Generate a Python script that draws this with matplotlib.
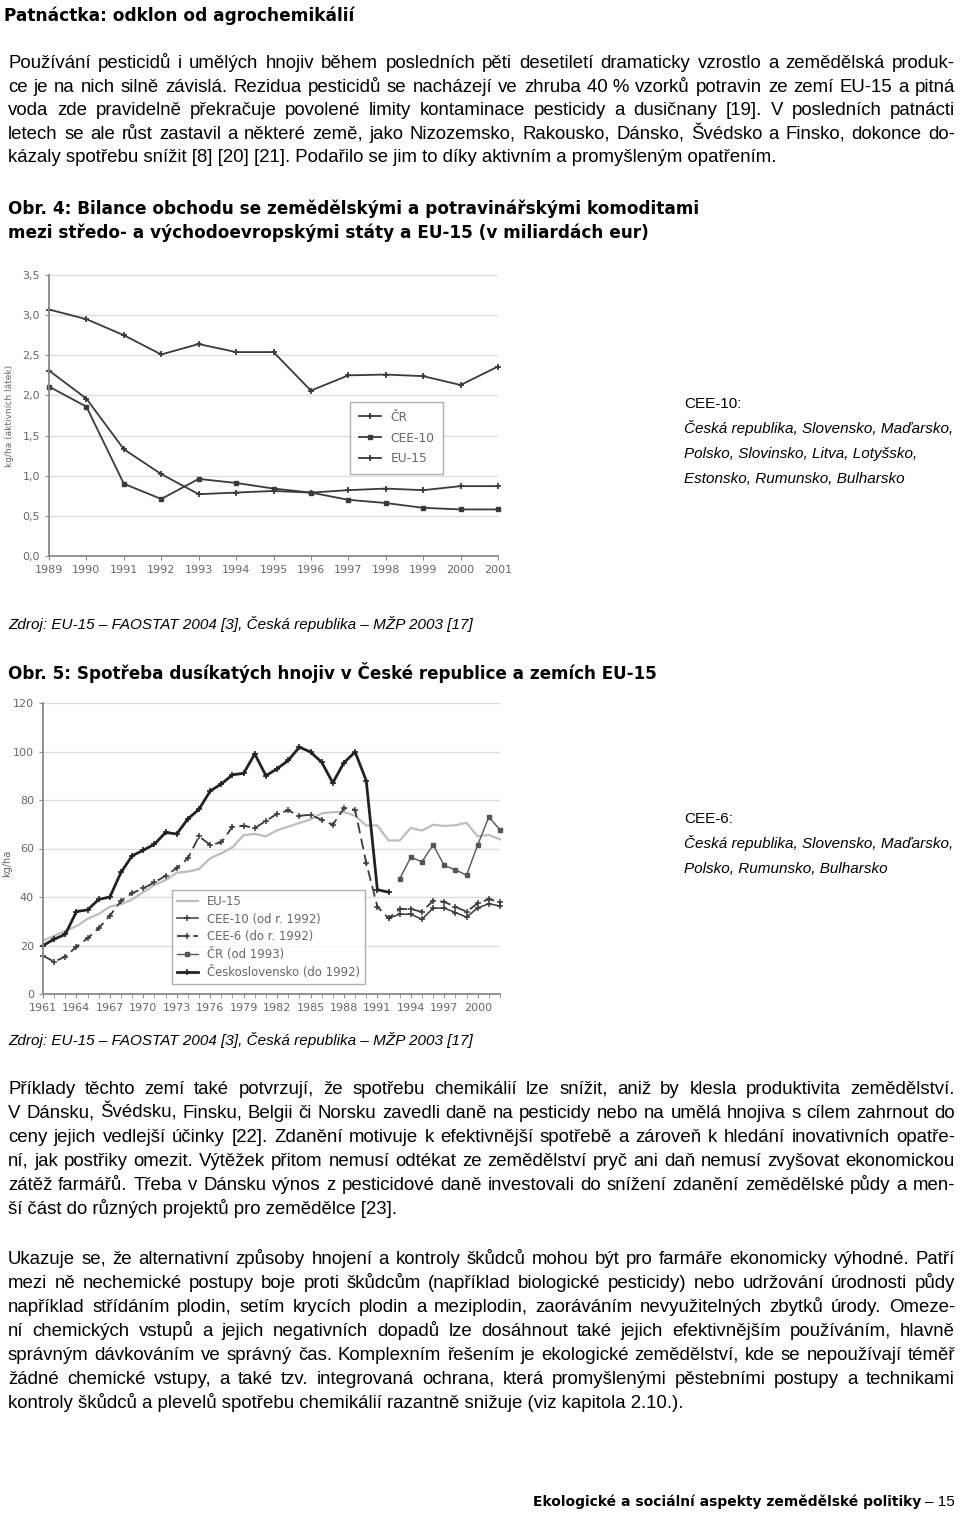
import matplotlib
matplotlib.use('Agg')
import matplotlib.pyplot as plt

# --- texty stranky ---
title = "Patnáctka: odklon od agrochemikálií"
para1 = [
    "Používání pesticidů i umělých hnojiv během posledních pěti desetiletí dramaticky vzrostlo a zemědělská produk-",
    "ce je na nich silně závislá. Rezidua pesticidů se nacházejí ve zhruba 40\u00a0% vzorků potravin ze zemí EU-15 a pitná",
    "voda zde pravidelně překračuje povolené limity kontaminace pesticidy a dusičnany [19]. V posledních patnácti",
    "letech se ale růst zastavil a některé země, jako Nizozemsko, Rakousko, Dánsko, Švédsko a Finsko, dokonce do-",
    "kázaly spotřebu snížit [8] [20] [21]. Podařilo se jim to díky aktivním a promyšleným opatřením.",
]
obr4 = ["Obr. 4: Bilance obchodu se zemědělskými a potravinářskými komoditami",
        "mezi středo- a východoevropskými státy a EU-15 (v miliardách eur)"]
note4 = ["CEE-10:", "Česká republika, Slovensko, Maďarsko,",
         "Polsko, Slovinsko, Litva, Lotyšsko,", "Estonsko, Rumunsko, Bulharsko"]
source = "Zdroj: EU-15 – FAOSTAT 2004 [3], Česká republika – MŽP 2003 [17]"
obr5 = "Obr. 5: Spotřeba dusíkatých hnojiv v České republice a zemích EU-15"
note5 = ["CEE-6:", "Česká republika, Slovensko, Maďarsko,", "Polsko, Rumunsko, Bulharsko"]
para2 = [
    "Příklady těchto zemí také potvrzují, že spotřebu chemikálií lze snížit, aniž by klesla produktivita zemědělství.",
    "V Dánsku, Švédsku, Finsku, Belgii či Norsku zavedli daně na pesticidy nebo na umělá hnojiva s cílem zahrnout do",
    "ceny jejich vedlejší účinky [22]. Zdanění motivuje k efektivnější spotřebě a zároveň k hledání inovativních opatře-",
    "ní, jak postřiky omezit. Výtěžek přitom nemusí odtékat ze zemědělství pryč ani daň nemusí zvyšovat ekonomickou",
    "zátěž farmářů. Třeba v Dánsku výnos z pesticidové daně investovali do snížení zdanění zemědělské půdy a men-",
    "ší část do různých projektů pro zemědělce [23].",
]
para3 = [
    "Ukazuje se, že alternativní způsoby hnojení a kontroly škůdců mohou být pro farmáře ekonomicky výhodné. Patří",
    "mezi ně nechemické postupy boje proti škůdcům (například biologické pesticidy) nebo udržování úrodnosti půdy",
    "například střídáním plodin, setím krycích plodin a meziplodin, zaoráváním nevyužitelných zbytků úrody. Omeze-",
    "ní chemických vstupů a jejich negativních dopadů lze dosáhnout také jejich efektivnějším používáním, hlavně",
    "správným dávkováním ve správný čas. Komplexním řešením je ekologické zemědělství, kde se nepoužívají téměř",
    "žádné chemické vstupy, a také tzv. integrovaná ochrana, která promyšlenými pěstebními postupy a technikami",
    "kontroly škůdců a plevelů spotřebu chemikálií razantně snižuje (viz kapitola 2.10.).",
]
footer = "Ekologické a sociální aspekty zemědělské politiky"
page_no = "– 15"

# --- graf 1 (kg/ha aktivnich latek) ---
years1 = list(range(1989, 2002))
cr1 = [2.31, 1.96, 1.33, 1.02, 0.77, 0.79, 0.81, 0.79, 0.82, 0.84, 0.82, 0.87, 0.87]
cee10_1 = [2.11, 1.86, 0.90, 0.71, 0.96, 0.91, 0.84, 0.79, 0.70, 0.66, 0.60, 0.58, 0.58]
eu15_1 = [3.07, 2.95, 2.75, 2.51, 2.64, 2.54, 2.54, 2.06, 2.25, 2.26, 2.24, 2.13, 2.36]
yticks1 = ["0,0", "0,5", "1,0", "1,5", "2,0", "2,5", "3,0", "3,5"]

# --- graf 2 (kg/ha dusiku) ---
years2 = list(range(1961, 2003))
eu15_2 = [22, 24, 26, 28, 31, 33, 36, 37, 39, 42, 45, 47, 50, 50.5, 51.5, 56, 58, 60.5, 65.5, 66,
          65, 67.5, 69, 70.5, 72, 74.5, 75, 75, 73.5, 69.5, 69.5, 63.3, 63.3, 68.5, 67.4, 69.8,
          69.3, 69.6, 70.6, 65, 65.6, 63.8]
cs_years = list(range(1961, 1993))
cs = [20, 22.6, 24.6, 34, 34.7, 39, 40, 50.2, 57, 59.3, 61.8, 66.6, 66, 72.2, 76.2, 83.7,
      86.6, 90.4, 91, 99, 90, 92.9, 96.3, 101.8, 99.8, 95.6, 87.1, 95.4, 99.8, 88, 43, 42]
cee6 = [15.8, 13.3, 15.4, 19.5, 23, 27.1, 32.3, 38.4, 41.6, 43.6, 46, 48.8, 51.9, 56, 65, 61.5,
        62.5, 69, 69.4, 68.4, 71.4, 74.3, 75.7, 73.5, 73.9, 71.8, 69.8, 76.6, 76, 54, 36, 31.2,
        35.1, 35, 33.9, 38.5, 38, 35.9, 34, 37.4, 39.1, 38]
cee10_years = list(range(1992, 2003))
cee10_2 = [31.2, 32.9, 32.9, 30.8, 35.4, 35.4, 33.6, 31.7, 35.5, 37.2, 36.3]
cr_years = list(range(1993, 2003))
cr2 = [47.5, 56.4, 54.5, 61.5, 53, 51.2, 49, 61.5, 73, 67.7]

W, H = 960, 1516
FONT = 'Liberation Sans'
HEAD = 'DejaVu Sans'
INK = '#3a3a3a'
GREY = '#666666'

fig = plt.figure(figsize=(9.6, 15.16), dpi=100)
page = fig.add_axes([0, 0, 1, 1])
page.set_xlim(0, W)
page.set_ylim(H, 0)
page.axis('off')
renderer = fig.canvas.get_renderer()


def width_of(t):
    return t.get_window_extent(renderer).width


def fit_text(x, y, s, target, size=12, family=FONT, **kw):
    # velikost pisma tak, aby text mel danou sirku
    t = page.text(x, y, s, fontsize=size, va='baseline', family=family, **kw)
    t.set_fontsize(size * target / width_of(t))
    return t.get_fontsize()


def justify(y, line, size, x0=8, x1=955):
    words = line.split(' ')
    ts = [page.text(0, y, w, fontsize=size, va='baseline', family=FONT) for w in words]
    ws = [width_of(t) for t in ts]
    gap = (x1 - x0 - sum(ws)) / (len(ws) - 1)
    x = x0
    for t, w in zip(ts, ws):
        t.set_x(x)
        x += w + gap


def paragraph(y0, lines, size, step):
    for i, line in enumerate(lines):
        y = y0 + i * step
        if i == len(lines) - 1:
            page.text(8, y, line, fontsize=size, va='baseline', family=FONT)
        else:
            justify(y, line, size)


# velikost textu odstavcu podle nejdelsiho radku
natural = max(page.text(0, 0, l, fontsize=12, family=FONT).get_window_extent(renderer).width
              for l in para1[:-1] + para2[:-1] + para3[:-1])
for t in list(page.texts):
    t.remove()
body = 12 * 942 / natural

fit_text(4, 21, title, 350, family=HEAD, weight='bold')
paragraph(68, para1, body, 23.6)
s4 = fit_text(8, 214, obr4[0], 690, family=HEAD, weight='bold')
page.text(8, 238, obr4[1], fontsize=s4, va='baseline', family=HEAD, weight='bold')

sn = fit_text(684, 433, note4[1], 269, style='italic')
page.text(684, 408, note4[0], fontsize=sn, va='baseline', family=FONT)
page.text(684, 458, note4[2], fontsize=sn, va='baseline', family=FONT, style='italic')
page.text(684, 483, note4[3], fontsize=sn, va='baseline', family=FONT, style='italic')

ss = fit_text(8, 629, source, 462, style='italic')
fit_text(8, 679, obr5, 647, family=HEAD, weight='bold')

page.text(684, 823, note5[0], fontsize=sn, va='baseline', family=FONT)
page.text(684, 848, note5[1], fontsize=sn, va='baseline', family=FONT, style='italic')
page.text(684, 873, note5[2], fontsize=sn, va='baseline', family=FONT, style='italic')

page.text(8, 1045, source, fontsize=ss, va='baseline', family=FONT, style='italic')
paragraph(1094, para2, body, 24)
paragraph(1264, para3, body, 24)

fit_text(533, 1506, footer, 386, family=HEAD, weight='bold')
page.text(955, 1506, page_no, fontsize=11, va='baseline', ha='right', family=FONT)


def style_axes(ax):
    for side in ['top', 'right']:
        ax.spines[side].set_visible(False)
    for side in ['left', 'bottom']:
        ax.spines[side].set_color('#8a8a8a')
        ax.spines[side].set_linewidth(1.3)
    ax.grid(axis='y', color='#dcdcdc', linewidth=1)
    ax.set_axisbelow(True)
    ax.tick_params(colors='#8a8a8a', labelcolor=GREY, length=3, labelsize=8)
    ax.patch.set_alpha(0)


# graf 1
ax1 = fig.add_axes([49 / W, 1 - 556 / H, 449 / W, 281 / H])
ax1.plot(years1, cr1, color=INK, lw=1.3, marker='+', ms=5, mew=1.3, label='ČR', clip_on=False)
ax1.plot(years1, cee10_1, color=INK, lw=1.3, marker='s', ms=3.5, label='CEE-10', clip_on=False)
ax1.plot(years1, eu15_1, color=INK, lw=1.3, marker='+', ms=5, mew=1.3, label='EU-15', clip_on=False)
ax1.set_xlim(1989, 2001)
ax1.set_ylim(0, 3.5)
ax1.set_xticks(years1)
ax1.set_yticks([0, 0.5, 1, 1.5, 2, 2.5, 3, 3.5])
ax1.set_yticklabels(yticks1)
style_axes(ax1)
ax1.set_ylabel('kg/ha (aktivních látek)', fontsize=6.5, color=GREY)
ax1.yaxis.set_label_coords(-0.078, 0.5)
ax1.legend(loc='upper left', bbox_to_anchor=(350 / W, 1 - 402 / H), bbox_transform=fig.transFigure,
           fontsize=8.8, frameon=True, fancybox=False, edgecolor='#9a9a9a', labelcolor=GREY,
           handlelength=1.8, borderaxespad=0, borderpad=0.7, labelspacing=0.65)

# graf 2
ax2 = fig.add_axes([43 / W, 1 - 994 / H, 457 / W, 291 / H])
ax2.plot(years2, eu15_2, color='#bdbdbd', lw=1.6, label='EU-15', clip_on=False)
ax2.plot(cee10_years, cee10_2, color=INK, lw=1.1, marker='+', ms=4, mew=1.1,
         label='CEE-10 (od r. 1992)', clip_on=False)
ax2.plot(years2, cee6, color=INK, lw=1.3, ls=(0, (6, 3)), marker='+', ms=4, mew=1.1,
         label='CEE-6 (do r. 1992)', clip_on=False)
ax2.plot(cr_years, cr2, color='#555555', lw=1, marker='s', ms=2.8, label='ČR (od 1993)', clip_on=False)
ax2.plot(cs_years, cs, color='#222222', lw=2, marker='+', ms=4, mew=1.2,
         label='Československo (do 1992)', clip_on=False)
ax2.set_xlim(1961, 2002)
ax2.set_ylim(0, 120)
ax2.set_xticks(years2, minor=True)
ax2.set_xticks(list(range(1961, 2003, 3)))
ax2.set_yticks(list(range(0, 121, 20)))
style_axes(ax2)
ax2.tick_params(which='minor', length=3, color='#8a8a8a')
ax2.set_ylabel('kg/ha', fontsize=7, color=GREY)
ax2.yaxis.set_label_coords(-0.068, 0.45)
ax2.legend(loc='upper left', bbox_to_anchor=(172 / W, 1 - 890 / H), bbox_transform=fig.transFigure,
           fontsize=8.4, frameon=True, fancybox=False, edgecolor='#9a9a9a', labelcolor=GREY,
           handlelength=1.8, borderaxespad=0, borderpad=0.4, labelspacing=0.42)

fig.savefig('out.png', dpi=100)
